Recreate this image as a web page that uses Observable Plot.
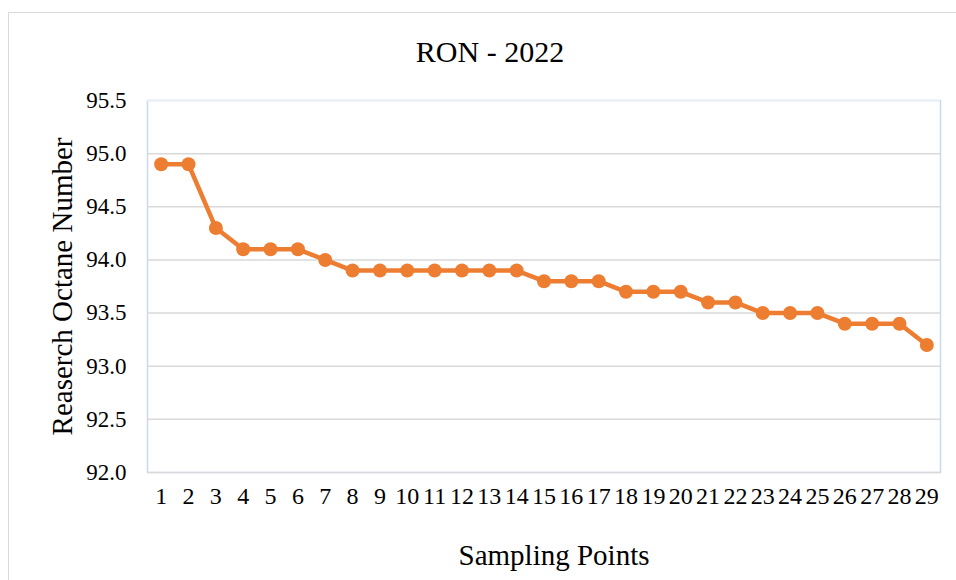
<!DOCTYPE html>
<html>
<head>
<meta charset="utf-8">
<script src="https://cdn.jsdelivr.net/npm/d3@7"></script>
<script src="https://cdn.jsdelivr.net/npm/@observablehq/plot@0.6"></script>
<style>
  html, body { margin: 0; padding: 0; background: #fff; }
  #wrap { position: relative; width: 956px; height: 580px; overflow: hidden; }
  #outer { position: absolute; left: 8px; top: 12px; width: 1000px; height: 1000px; border: 1.5px solid #d9d9d9; box-sizing: border-box; }
  #chart { position: absolute; left: 0; top: 0; }
  #chart svg text { font-family: 'Liberation Serif', 'Times New Roman', serif; }
</style>
</head>
<body>
<div id="wrap"><div id="outer"></div><div id="chart"></div></div>
<script>
const points = d3.range(1, 30);
const ron = [94.9, 94.9, 94.3, 94.1, 94.1, 94.1, 94.0, 93.9, 93.9, 93.9, 93.9, 93.9, 93.9, 93.9,
             93.8, 93.8, 93.8, 93.7, 93.7, 93.7, 93.6, 93.6, 93.5, 93.5, 93.5, 93.4, 93.4, 93.4, 93.2];
const yTicks = [92.0, 92.5, 93.0, 93.5, 94.0, 94.5, 95.0, 95.5];
const title = "RON - 2022";
const xLabel = "Sampling Points";
const yLabel = "Reaserch Octane Number";

const data = points.map((p, i) => ({point: p, value: ron[i]}));
const font = "'Liberation Serif', 'Times New Roman', serif";
const orange = "#ED7D31";

const chart = Plot.plot({
  width: 956,
  height: 580,
  marginLeft: 147,
  marginRight: 16,
  marginTop: 100,
  marginBottom: 108,
  style: {fontFamily: font, fontSize: "23px", color: "#000", background: "transparent"},
  x: {type: "point", domain: points, padding: 0.5, round: false, label: null},
  y: {domain: [92, 95.5], label: null},
  marks: [
    Plot.frame({stroke: "#c9daf0", strokeWidth: 1.5}),
    Plot.ruleY([95.5], {stroke: "#eaf0f8", strokeWidth: 1.5}),
    Plot.ruleY(yTicks.filter(t => t < 95.5), {stroke: "#d9d9d9", strokeWidth: 1.5}),
    Plot.axisY({ticks: yTicks, tickSize: 0, tickPadding: 21, tickFormat: d => d.toFixed(1), fontSize: 23, fontFamily: font, fill: "#000", label: null}),
    Plot.axisX({tickSize: 0, tickPadding: 14, fontSize: 24, fontFamily: font, fill: "#000", label: null}),
    Plot.line(data, {x: "point", y: "value", stroke: orange, strokeWidth: 4.5, strokeLinejoin: "round"}),
    Plot.dot(data, {x: "point", y: "value", r: 7, fill: orange, stroke: null}),
    Plot.text([title], {text: d => d, frameAnchor: "top", dx: -54, dy: -48, fontSize: 30, fontFamily: font, lineAnchor: "middle", fill: "#000"}),
    Plot.text([xLabel], {text: d => d, frameAnchor: "bottom", dx: 10, dy: 83, fontSize: 29, fontFamily: font, lineAnchor: "middle", fill: "#000"}),
    Plot.text([yLabel], {text: d => d, frameAnchor: "left", dx: -85, rotate: -90, textAnchor: "middle", fontSize: 29, fontFamily: font, lineAnchor: "middle", fill: "#000"})
  ]
});
document.getElementById("chart").appendChild(chart);
</script>
</body>
</html>
